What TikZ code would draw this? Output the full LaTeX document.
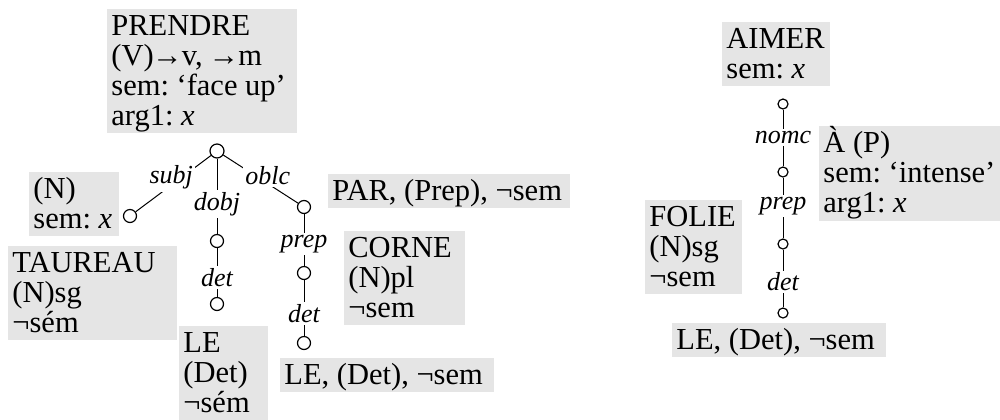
\documentclass[tikz,border=0pt]{standalone}
\usepackage{fontspec}
\setmainfont{Liberation Serif}
\definecolor{boxgray}{HTML}{E5E5E5}
\newcommand{\sk}{\leavevmode\vrule width 0pt height 13pt depth 4pt\relax}
\newcommand{\bx}[2]{\parbox[t]{#1}{\baselineskip=15pt\lineskiplimit=-50pt\relax #2}}
\newcommand{\rar}{\kern-0.8pt→\kern-0.4pt}
\newcommand{\boxfont}{\fontsize{15.25}{15}\selectfont\frenchspacing}
\newcommand{\labfont}{\fontsize{13}{13}\selectfont\itshape}
\tikzset{
  box/.style={fill=boxgray, anchor=north west, inner xsep=2pt, inner ysep=0pt, font=\boxfont},
  lab/.style={fill=white, inner sep=1pt, font=\labfont},
  dot/.style={circle, draw, fill=white, inner sep=0pt, minimum size=6.5pt, line width=0.6pt},
  sdot/.style={dot, minimum size=5pt},
  edge/.style={line width=0.5pt}
}
\begin{document}
\begin{tikzpicture}[x=0.5pt, y=-0.5pt]
\useasboundingbox (0,0) rectangle (1000,419);
% boxes left tree
\node[box] (prendre) at (107,9) {\bx{91pt}{\sk PRENDRE\\\sk (V)\rar v,~\rar m\\\sk sem:~‘face~up’\\\sk arg1:~\textit{x}}};
\node[box] (nsem) at (29,172) {\bx{41pt}{\sk (N)\\\sk sem:~\textit{x}}};
\node[box] (taureau) at (8,246) {\bx{80.5pt}{\sk TAUREAU\\\sk (N)sg\\\sk ¬sém}};
\node[box] (ledet) at (179,326) {\bx{40.5pt}{\sk LE\\\sk (Det)\\\sk ¬sém}};
\node[box] (par) at (328,174) {\bx{117pt}{\sk PAR,~(Prep),~¬sem}};
\node[box] (corne) at (344,231) {\bx{56.5pt}{\sk CORNE\\\sk (N)pl\\\sk ¬sem}};
\node[box] (leA) at (280,358) {\bx{103pt}{\sk LE,~(Det),~¬sem}};
% boxes right tree
\node[box] (aimer) at (722,22) {\bx{50pt}{\sk AIMER\\\sk sem:~\textit{x}}};
\node[box] (a) at (819,126) {\bx{92pt}{\sk À~(P)\\\sk sem:~‘intense’\\\sk arg1:~\textit{x}}};
\node[box] (folie) at (645,200) {\bx{44.5pt}{\sk FOLIE\\\sk (N)sg\\\sk ¬sem}};
\node[box] (leB) at (672,323) {\bx{103pt}{\sk LE,~(Det),~¬sem}};
% left tree dots
\node[dot, minimum size=7pt] (R) at (217,151) {};
\node[dot] (S) at (130,216) {};
\node[dot] (D) at (217,241) {};
\node[dot] (E) at (217,304) {};
\node[dot] (O) at (304,207) {};
\node[dot] (P) at (304,273) {};
\node[dot] (Q) at (304,343) {};
% right tree dots
\node[sdot] (T1) at (783,104) {};
\node[sdot] (T2) at (783,172) {};
\node[sdot] (T3) at (783,244) {};
\node[sdot] (T4) at (783,313) {};
% edges left
\draw[edge] (R) -- node[lab, pos=0.48, xshift=-1.8pt, yshift=2.4pt] {subj} (S);
\draw[edge] (R) -- node[lab, pos=0.6] {dobj} (D);
\draw[edge] (R) -- node[lab, pos=0.55, xshift=1.7pt, yshift=2.9pt] {oblc} (O);
\draw[edge] (D) -- node[lab, pos=0.6] {det} (E);
\draw[edge] (O) -- node[lab, pos=0.58] {prep} (P);
\draw[edge] (P) -- node[lab, pos=0.6] {det} (Q);
% edges right
\draw[edge] (T1) -- node[lab, pos=0.49] {nomc} (T2);
\draw[edge] (T2) -- node[lab, pos=0.47] {prep} (T3);
\draw[edge] (T3) -- node[lab, pos=0.56] {det} (T4);
\end{tikzpicture}
\end{document}
